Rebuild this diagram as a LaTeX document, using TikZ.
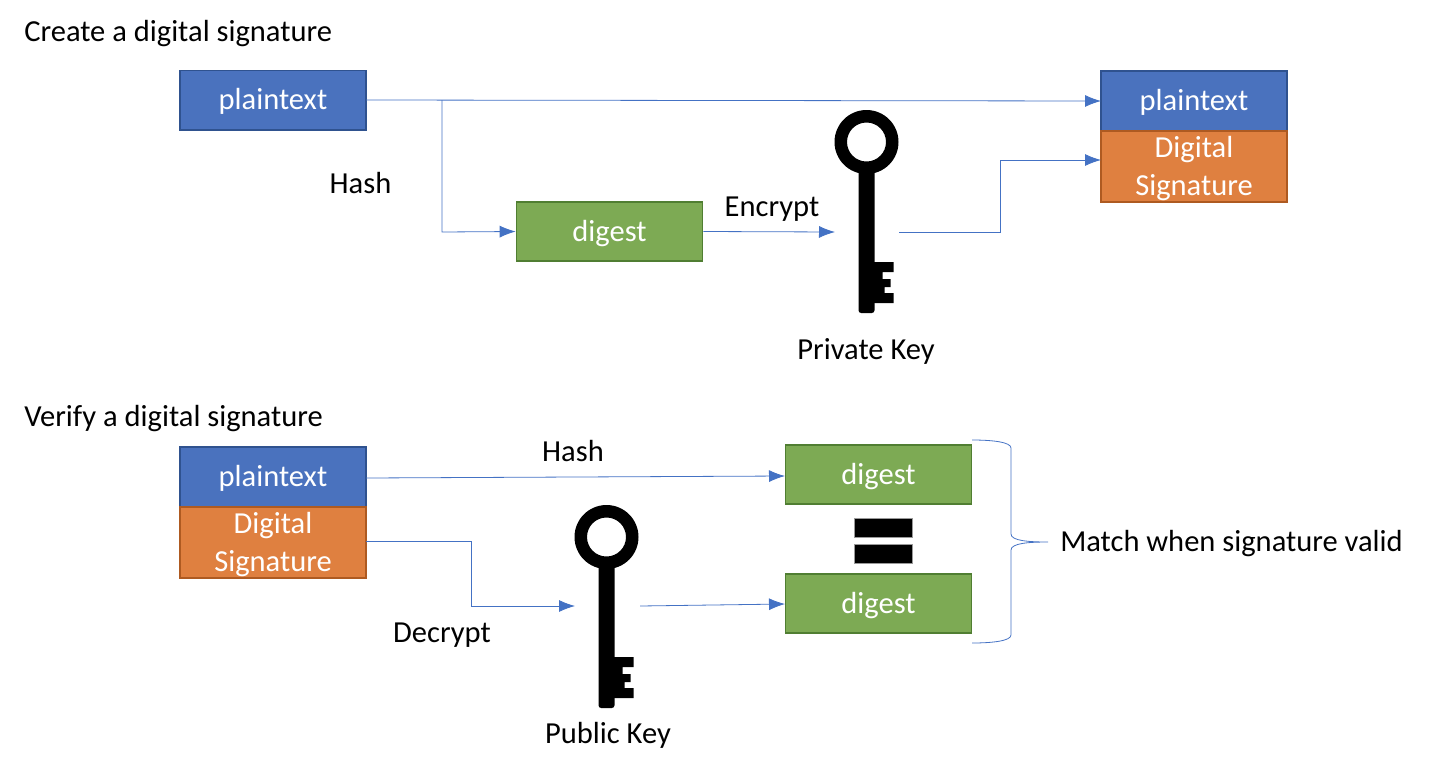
\documentclass[tikz,border=0pt]{standalone}
\usepackage{fontspec}
\setmainfont{Carlito}
\definecolor{bluefill}{HTML}{4A72BE}
\definecolor{blueedge}{HTML}{2F528F}
\definecolor{orangefill}{HTML}{DF8040}
\definecolor{orangeedge}{HTML}{AE5A21}
\definecolor{greenfill}{HTML}{7DAA54}
\definecolor{greenedge}{HTML}{507E32}
\definecolor{linkblue}{HTML}{4472C4}
\newcommand{\fs}{\fontsize{22.9}{28.5}\selectfont}
\newcommand{\lowerstrut}{\rule{0pt}{18.5pt}}
\tikzset{
  x=0.75pt,y=-0.75pt,
  box/.style={draw,line width=1.25pt,minimum width=139.5pt,inner sep=0pt,text=white,align=center,font=\fs},
  plainbox/.style={box,fill=bluefill,draw=blueedge,minimum height=44.5pt},
  sigbox/.style={box,fill=orangefill,draw=orangeedge,minimum height=53pt},
  digestbox/.style={box,fill=greenfill,draw=greenedge,minimum height=44.5pt},
  label/.style={inner sep=0pt,text=black,font=\fs,anchor=base},
  head/.style={inner sep=0pt,text=black,font=\fs,anchor=base west},
  link/.style={draw=linkblue,line width=0.6pt},
  arrowlink/.style={link,-{Latex[length=12pt,width=9pt]}},
  keyshape/.pic={
    \fill[black,even odd rule] (0,0) circle[radius=32] (0,0) circle[radius=19.5];
    \fill[black,rounded corners=2pt] (-8,25) -- (8,25) -- (8,171) -- (-8,171) -- cycle;
    \fill[black] (7,120) -- (27,120) -- (27,130) -- (16,130) -- (16,137) -- (24,137) -- (24,145) -- (18,145) -- (18,151) -- (27,151) -- (27,161) -- (7,161) -- cycle;
  }
}
\usetikzlibrary{arrows.meta}
\begin{document}
\begin{tikzpicture}
\useasboundingbox (0,0) rectangle (1432,768);

\node[head] (t1) at (24,41) {Create a digital signature};
\node[head] (t2) at (24,426) {Verify a digital signature};

\node[plainbox] (p1) at (273,100) {\lowerstrut plaintext};
\node[digestbox] (d1) at (609.5,231.5) {\lowerstrut digest};
\node[plainbox,minimum height=45pt] (p2) at (1194,101) {\lowerstrut plaintext};
\node[sigbox] (s2) at (1194,166.5) {\lowerstrut Digital\\Signature};

\node[plainbox,minimum height=45pt] (p3) at (273,477) {\lowerstrut plaintext};
\node[sigbox] (s3) at (273,542.5) {\lowerstrut Digital\\Signature};
\node[digestbox] (d2) at (878.5,474.5) {\lowerstrut digest};
\node[digestbox] (d3) at (878.5,603.5) {\lowerstrut digest};

\node[fill=black,draw=black!40,line width=0.3pt,minimum width=43.5pt,minimum height=14.5pt,inner sep=0pt] (e1) at (883,527.5) {};
\node[fill=black,draw=black!40,line width=0.3pt,minimum width=43.5pt,minimum height=14.5pt,inner sep=0pt] (e2) at (883,554) {};

\pic at (866.5,142) {keyshape};
\pic at (606.5,537) {keyshape};

\coordinate (k1in) at (835,232);
\coordinate (k1out) at (899,232);
\coordinate (k2in) at (575,606);
\coordinate (k2out) at (640,606);
\coordinate (p1e) at (366,100);
\coordinate (p2w) at (1101,101);
\coordinate (s2w) at (1101,160);
\coordinate (p3e) at (366,478);
\coordinate (d2w) at (785,476);
\coordinate (d3w) at (785,604);
\coordinate (s3e) at (366,541);

\draw[arrowlink] (p1e) -- (p2w);
\draw[arrowlink] (442,100) -- (442,232) -- (d1.west);
\draw[arrowlink] (d1.east) -- (k1in);
\draw[arrowlink] (k1out) -- (1000,232) -- (1000,160) -- (s2w);
\draw[arrowlink] (p3e) -- (d2w);
\draw[arrowlink] (s3e) -- (471,541) -- (471,606) -- (k2in);
\draw[arrowlink] (k2out) -- (d3w);

\coordinate (bt) at (972,440);
\coordinate (bm) at (1048,542);
\coordinate (bb) at (972,643);
\draw[link] (bt) .. controls (992,440) and (1011,442) .. (1011,448)
  -- (1011,534) .. controls (1011,541) and (1030,542) .. (bm)
  .. controls (1030,542) and (1011,543) .. (1011,550)
  -- (1011,635) .. controls (1011,641) and (992,643) .. (bb);

\node[label] (l1) at (360.5,193) {Hash};
\node[label] (l2) at (772,216) {Encrypt};
\node[label] (l3) at (866,359) {Private Key};
\node[label] (l4) at (573,461) {Hash};
\node[label] (l5) at (442,642) {Decrypt};
\node[label] (l6) at (608,743) {Public Key};
\node[label,anchor=base west] (l7) at (1060,551) {Match when signature valid};
\end{tikzpicture}
\end{document}
